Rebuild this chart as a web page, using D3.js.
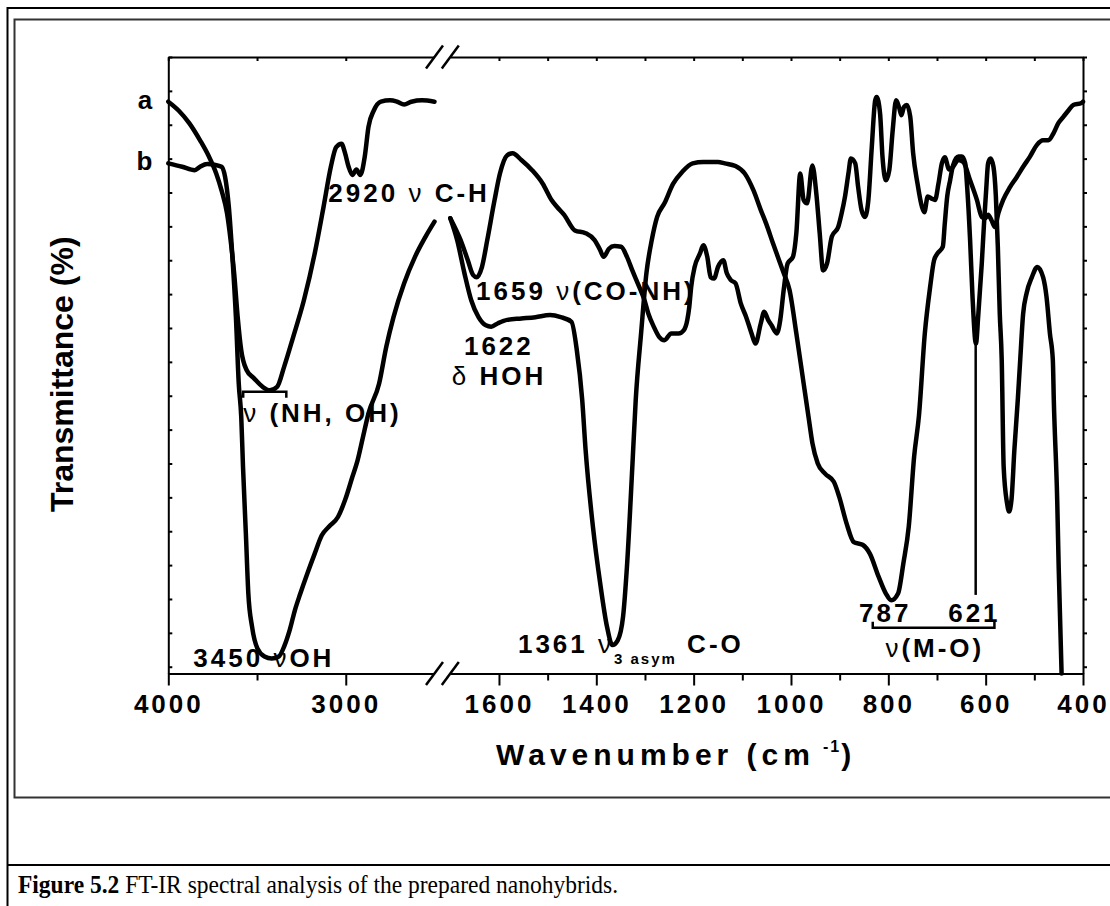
<!DOCTYPE html>
<html>
<head>
<meta charset="utf-8">
<script src="https://cdn.jsdelivr.net/npm/d3@7"></script>
<style>
  body { margin: 0; background: #fff; }
  svg { display: block; }
</style>
</head>
<body>
<div id="chart"></div>
<script>
// FT-IR spectra: [wavenumber (cm-1), transmittance (a.u.)]
// left panel 4000-2500, right panel 1700-400 (broken axis)
const aLeft = [
  [4000, 83.4], [3942, 82.1], [3881, 80.2], [3821, 77.7], [3771, 75.3], [3730, 72.8],
  [3700, 70.3], [3669, 66.9], [3649, 63.0], [3629, 58.1], [3609, 51.6], [3589, 46.7],
  [3559, 43.8], [3518, 42.6], [3468, 41.3], [3428, 40.8], [3387, 41.3], [3347, 44.3],
  [3296, 48.7], [3236, 54.1], [3175, 61.0], [3125, 67.9], [3084, 73.8], [3054, 76.7],
  [3024, 77.2], [3004, 75.8], [2984, 73.8], [2963, 72.6], [2940, 73.4], [2918, 72.6],
  [2893, 75.3], [2872, 79.7], [2842, 82.1], [2802, 83.4], [2751, 83.6], [2711, 83.4],
  [2671, 83.0], [2630, 83.4], [2570, 83.6], [2500, 83.4]
];
const bLeft = [
  [4000, 74.3], [3922, 73.8], [3851, 73.3], [3821, 73.8], [3781, 74.2], [3740, 74.1],
  [3700, 73.8], [3680, 72.3], [3659, 67.9], [3640, 61.0], [3619, 51.6], [3603, 41.8],
  [3589, 36.9], [3579, 29.5], [3563, 19.7], [3549, 10.8], [3528, 5.9], [3498, 2.7],
  [3458, 1.5], [3417, 1.2], [3377, 1.5], [3347, 3.0], [3316, 5.4], [3286, 8.4],
  [3256, 10.8], [3216, 13.8], [3175, 16.7], [3135, 19.4], [3094, 20.7], [3044, 22.1],
  [3004, 24.6], [2963, 28.0], [2933, 30.5], [2903, 33.9], [2872, 37.4], [2812, 41.8],
  [2772, 47.2], [2731, 51.6], [2671, 56.6], [2610, 60.5], [2550, 63.5], [2500, 65.7]
];
const aRight = [
  [1700, 66.2], [1679, 63.0], [1664, 60.0], [1653, 57.8], [1646, 57.5], [1635, 59.0],
  [1624, 63.0], [1609, 68.9], [1598, 72.8], [1583, 75.5], [1572, 75.8], [1554, 74.8],
  [1532, 73.3], [1510, 71.3], [1492, 68.9], [1481, 67.9], [1466, 66.7], [1444, 64.4],
  [1422, 64.0], [1404, 63.0], [1392, 61.5], [1385, 60.5], [1374, 61.7], [1363, 62.1],
  [1349, 62.0], [1337, 60.5], [1326, 58.5], [1312, 56.1], [1301, 54.1], [1293, 52.1],
  [1282, 50.2], [1271, 48.7], [1260, 48.2], [1246, 49.2], [1231, 49.2], [1220, 49.7],
  [1213, 51.2], [1209, 53.1], [1205, 56.1], [1198, 59.0], [1187, 61.0], [1180, 62.2],
  [1172, 60.5], [1165, 57.5], [1158, 57.3], [1150, 59.0], [1139, 60.0], [1132, 58.1],
  [1124, 57.1], [1114, 56.6], [1103, 53.6], [1092, 51.6], [1081, 49.2], [1073, 47.7],
  [1062, 50.7], [1055, 52.4], [1047, 51.2], [1040, 50.4], [1029, 49.2], [1022, 51.2],
  [1015, 55.6], [1007, 59.5], [996, 60.5], [989, 64.0], [981, 72.8], [974, 68.9],
  [967, 68.4], [956, 74.0], [948, 69.9], [941, 64.0], [934, 58.5], [926, 59.5],
  [916, 63.5], [903, 64.9], [896, 66.9], [889, 69.4], [882, 72.8], [877, 75.0],
  [868, 74.3], [862, 70.8], [855, 67.4], [848, 66.4], [841, 68.9], [834, 76.7],
  [827, 83.6], [824, 84.1], [817, 81.7], [812, 75.3], [805, 71.8], [798, 73.3],
  [791, 79.2], [784, 83.6], [778, 82.6], [773, 81.4], [768, 82.6], [762, 82.9],
  [755, 81.2], [749, 75.8], [740, 71.3], [731, 67.9], [726, 67.1], [719, 69.4],
  [711, 69.1], [704, 68.9], [697, 71.3], [690, 74.3], [684, 75.2], [675, 73.4],
  [668, 73.7], [656, 74.8], [646, 74.5], [632, 71.8], [618, 68.9], [608, 66.4],
  [601, 66.2], [595, 66.7], [588, 65.9], [581, 64.9], [574, 66.9], [564, 68.9],
  [550, 70.8], [536, 72.3], [523, 73.8], [509, 75.3], [495, 77.0], [482, 77.7],
  [471, 77.7], [461, 78.7], [451, 80.2], [440, 81.2], [430, 82.1], [420, 82.9],
  [403, 83.2], [400, 83.4]
];
const bRight = [
  [1700, 66.2], [1686, 63.0], [1671, 58.1], [1657, 54.1], [1642, 51.6], [1627, 50.4],
  [1616, 50.2], [1602, 50.7], [1583, 51.2], [1554, 51.4], [1525, 51.6], [1495, 51.9],
  [1473, 51.6], [1451, 50.9], [1440, 46.7], [1429, 39.4], [1422, 32.0], [1407, 20.7],
  [1392, 12.3], [1378, 5.9], [1367, 3.2], [1356, 3.9], [1345, 7.4], [1337, 14.8],
  [1326, 29.5], [1319, 39.4], [1308, 49.2], [1297, 58.1], [1286, 63.0], [1275, 66.4],
  [1260, 68.4], [1242, 71.3], [1224, 73.0], [1202, 74.3], [1180, 74.5], [1150, 74.5],
  [1136, 74.3], [1114, 73.9], [1095, 72.8], [1077, 70.3], [1062, 67.4], [1051, 65.4],
  [1037, 62.5], [1015, 58.1], [1003, 55.6], [989, 49.2], [974, 41.8], [963, 36.4],
  [956, 33.0], [945, 30.0], [930, 28.5], [912, 27.3], [901, 25.1], [886, 21.2],
  [871, 18.4], [853, 18.0], [838, 16.7], [820, 13.3], [805, 10.8], [794, 9.8],
  [780, 10.8], [769, 15.3], [758, 20.7], [747, 31.0], [737, 37.1], [725, 49.2],
  [714, 56.1], [706, 60.0], [699, 61.0], [688, 62.0], [684, 65.4], [679, 69.4],
  [673, 71.8], [667, 74.0], [656, 75.3], [649, 75.3], [642, 74.3], [638, 70.8],
  [632, 63.0], [627, 54.6], [620, 47.7], [615, 52.1], [608, 59.5], [603, 65.9],
  [599, 70.3], [595, 74.3], [590, 75.0], [584, 73.8], [579, 69.4], [575, 62.0],
  [571, 52.1], [567, 45.3], [563, 29.5], [556, 24.1], [552, 22.9], [547, 24.6],
  [541, 32.0], [534, 39.4], [529, 45.3], [523, 52.1], [516, 55.1], [505, 57.5],
  [494, 59.0], [482, 57.5], [475, 54.6], [468, 49.2], [462, 45.3], [460, 39.4],
  [453, 24.6], [450, 14.8], [444, -1.0]
];

// axis ticks
const leftMajor = [4000, 3000];
const leftMinor = [3500];
const rightMajor = [1600, 1400, 1200, 1000, 800, 600, 400];
const rightMinor = [1500, 1300, 1100, 900, 700, 500];
const yTicks = d3.range(0, 91, 5);

// peak annotations: panel, wavenumber / transmittance of the text start
const notes = [
  { seg: "L", wn: 3098, t: 68.6, text: "2920 ν C-H" },
  { seg: "R", wn: 1647, t: 54.1, text: "1659 ν(CO-NH)" },
  { seg: "R", wn: 1672, t: 46.0, text: "1622" },
  { seg: "R", wn: 1697, t: 41.6, text: "δ HOH" },
  { seg: "L", wn: 3578, t: 36.1, text: "ν (NH, OH)" },
  { seg: "L", wn: 3859, t: 0.0, text: "3450 νOH" },
  { seg: "R", wn: 860, t: 6.6, text: "787" },
  { seg: "R", wn: 677, t: 6.6, text: "621" },
  { seg: "R", wn: 806, t: 1.4, text: "ν(M-O)" }
];

const width = 1110, height = 906;
const plot = { left: 168.3, right: 1083, top: 57, bottom: 673.5, breakL: 434.5, breakR: 450.3 };
const sans = "'Liberation Sans', Arial, sans-serif";

const xL = d3.scaleLinear().domain([4000, 2500]).range([plot.left, plot.breakL]);
const xR = d3.scaleLinear().domain([1700, 400]).range([plot.breakR, plot.right]);
const y = d3.scaleLinear().domain([-1, 90]).range([plot.bottom, plot.top]);
const xOf = (seg, wn) => seg === "L" ? xL(wn) : xR(wn);

const svg = d3.select("#chart")
  .append("svg")
  .attr("width", width)
  .attr("height", height);

// page frame (table cell borders)
svg.append("rect")
  .attr("x", 7.5).attr("y", 8).attr("width", 1140).attr("height", 940)
  .attr("fill", "none").attr("stroke", "#000").attr("stroke-width", 2);
svg.append("rect")
  .attr("x", 14.5).attr("y", 19.5).attr("width", 1130).attr("height", 778)
  .attr("fill", "none").attr("stroke", "#333").attr("stroke-width", 2);
svg.append("line")
  .attr("x1", 7.5).attr("x2", width).attr("y1", 865).attr("y2", 865)
  .attr("stroke", "#000").attr("stroke-width", 2);

// Axes
const styleAxis = g => {
  g.selectAll(".domain").attr("stroke-width", 2);
  g.selectAll(".tick line").attr("stroke-width", 2);
  g.selectAll(".tick text")
    .attr("font-family", sans).attr("font-size", 26).attr("font-weight", "bold")
    .attr("letter-spacing", 3).attr("fill", "#000");
};

[[xL, leftMajor, leftMinor], [xR, rightMajor, rightMinor]].forEach(([sc, major, minor]) => {
  svg.append("g")
    .attr("transform", `translate(0,${plot.bottom})`)
    .call(d3.axisBottom(sc).tickValues(major).tickSize(12).tickPadding(9).tickSizeOuter(0).tickFormat(d3.format("d")))
    .call(styleAxis);
  svg.append("g")
    .attr("transform", `translate(0,${plot.bottom})`)
    .call(d3.axisBottom(sc).tickValues(minor).tickSize(7).tickFormat(""))
    .call(g => g.select(".domain").remove())
    .call(styleAxis);
  svg.append("g")
    .attr("transform", `translate(0,${plot.top})`)
    .call(d3.axisTop(sc).tickValues(major.concat(minor)).tickSize(-4).tickSizeOuter(0).tickFormat(""))
    .call(styleAxis);
});

svg.append("g")
  .attr("transform", `translate(${plot.left},0)`)
  .call(d3.axisLeft(y).tickValues(yTicks).tickSize(-4).tickSizeOuter(0).tickFormat(""))
  .call(styleAxis);
svg.append("g")
  .attr("transform", `translate(${plot.right},0)`)
  .call(d3.axisRight(y).tickValues(yTicks).tickSize(4).tickSizeOuter(0).tickFormat(""))
  .call(styleAxis);

// axis break marks
[plot.breakL, plot.breakR].forEach(bx => {
  [plot.top, plot.bottom].forEach(by => {
    svg.append("line")
      .attr("x1", bx - 8.5).attr("y1", by + 11.5)
      .attr("x2", bx + 8.5).attr("y2", by - 11.5)
      .attr("stroke", "#000").attr("stroke-width", 2.5);
  });
});

// Spectra
const lineL = d3.line().x(d => xL(d[0])).y(d => y(d[1])).curve(d3.curveMonotoneX);
const lineR = d3.line().x(d => xR(d[0])).y(d => y(d[1])).curve(d3.curveMonotoneX);

svg.append("g")
  .attr("fill", "none")
  .attr("stroke", "#000")
  .attr("stroke-width", 4.5)
  .attr("stroke-linejoin", "round")
  .attr("stroke-linecap", "round")
  .selectAll("path")
  .data([lineL(aLeft), lineL(bLeft), lineR(aRight), lineR(bRight)])
  .join("path")
  .attr("d", d => d);

// curve labels
const lab = svg.append("g")
  .attr("font-family", sans).attr("font-size", 26).attr("font-weight", "bold")
  .attr("text-anchor", "end");
lab.append("text").attr("x", plot.left - 16).attr("y", y(aLeft[0][1]) + 7).text("a");
lab.append("text").attr("x", plot.left - 16).attr("y", y(bLeft[0][1]) + 7).text("b");

// Annotations (greek letters come from a symbol font in the original: lighter weight)
const ann = svg.append("g")
  .attr("font-family", sans).attr("font-size", 26).attr("font-weight", "bold")
  .attr("letter-spacing", 3);

const addParts = (sel, str) => {
  str.split(/([νδ])/).filter(s => s.length).forEach(s => {
    sel.append("tspan")
      .attr("font-weight", /[νδ]/.test(s) ? "normal" : null)
      .text(s);
  });
};

ann.selectAll("text.note")
  .data(notes)
  .join("text")
  .attr("class", "note")
  .attr("x", d => xOf(d.seg, d.wn))
  .attr("y", d => y(d.t))
  .each(function (d) { addParts(d3.select(this), d.text); });

const co = ann.append("text").attr("x", xR(1561)).attr("y", y(2.0));
addParts(co, "1361 ν");
co.append("tspan").attr("font-size", 15).attr("letter-spacing", 2).attr("dy", 11).text("3 asym");
co.append("tspan").attr("dy", -11).text(" C-O");

// marker from the 621 band down to its label
svg.append("line")
  .attr("x1", xR(620.5)).attr("x2", xR(620.5))
  .attr("y1", y(47.7)).attr("y2", y(10.6))
  .attr("stroke", "#000").attr("stroke-width", 2.5);

// brackets
const bracket = (sc, w0, w1, t, dir) => {
  const yy = y(t);
  svg.append("path")
    .attr("d", `M${sc(w0)},${yy + dir * 6}V${yy}H${sc(w1)}V${yy + dir * 6}`)
    .attr("fill", "none").attr("stroke", "#000").attr("stroke-width", 2.5);
};
bracket(xR, 832, 582, 5.75, -1);
bracket(xL, 3578, 3335, 40.6, 1);

// axis titles
svg.append("text")
  .attr("transform", `translate(73,${(plot.top + plot.bottom) / 2 + 9}) rotate(-90)`)
  .attr("text-anchor", "middle")
  .attr("font-family", sans).attr("font-size", 32).attr("font-weight", "bold")
  .text("Transmittance (%)");

const xt = svg.append("text")
  .attr("x", 496).attr("y", 765)
  .attr("font-family", sans).attr("font-size", 30).attr("font-weight", "bold")
  .attr("letter-spacing", 5);
xt.append("tspan").text("Wavenumber (cm");
xt.append("tspan").attr("font-size", 16).attr("letter-spacing", 2).attr("dx", 8).attr("dy", -13).text("-1");
xt.append("tspan").attr("dy", 13).text(")");

// caption (source image is slightly stretched vertically)
const cap = svg.append("text")
  .attr("transform", "translate(18,893) scale(1,1.1)")
  .attr("font-family", "'Liberation Serif', 'Times New Roman', serif").attr("font-size", 23.5);
cap.append("tspan").attr("font-weight", "bold").text("Figure 5.2");
cap.append("tspan").text(" FT-IR spectral analysis of the prepared nanohybrids.");
</script>
</body>
</html>
